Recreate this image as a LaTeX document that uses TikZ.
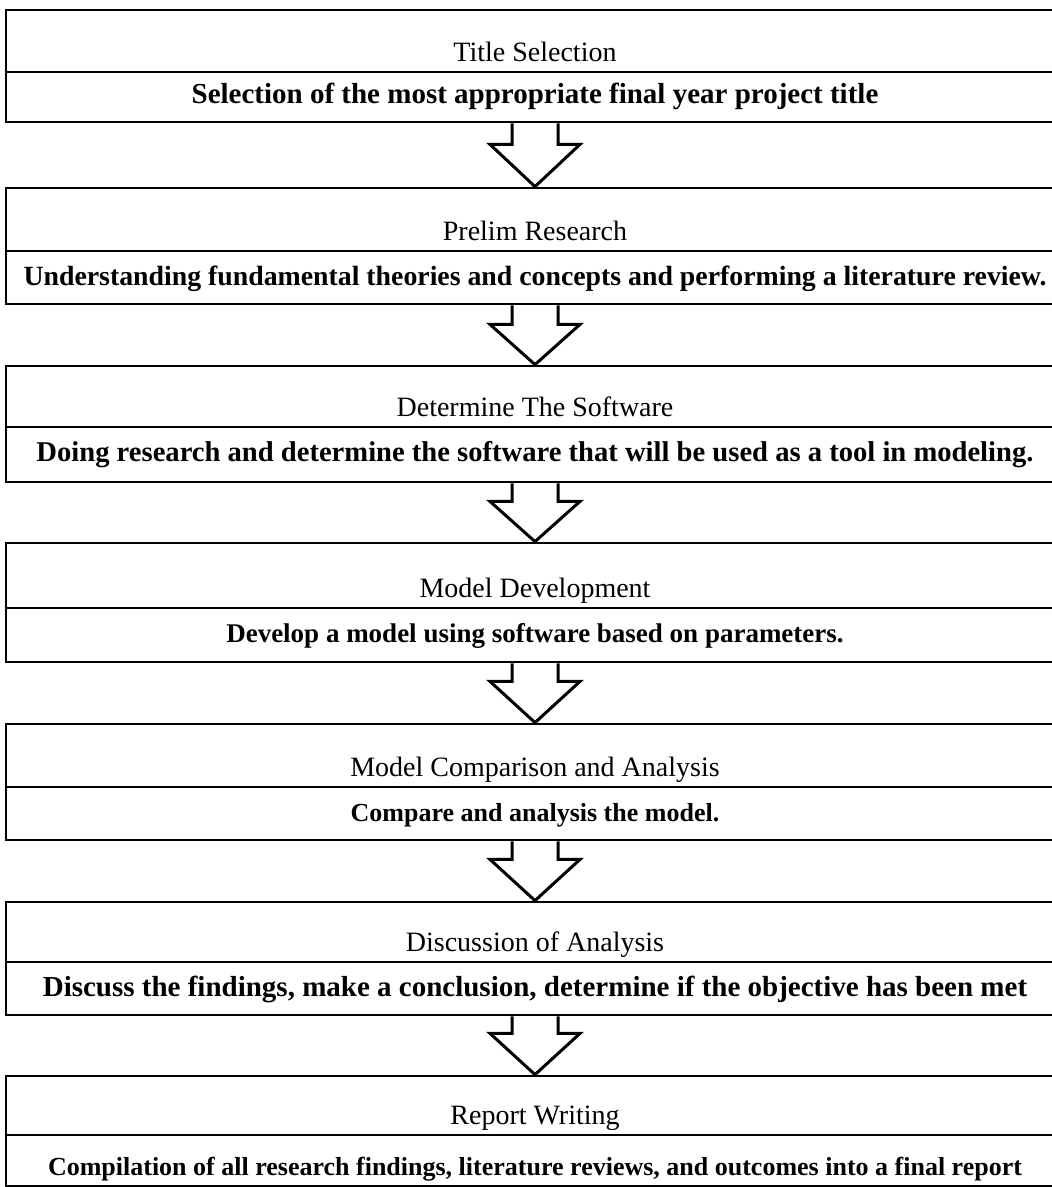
\documentclass[tikz,border=0pt]{standalone}
\usepackage{fontspec}
\setmainfont{Liberation Serif}
\usetikzlibrary{calc}

\tikzset{
  stagebox/.style={draw, line width=2.8pt, minimum width=1058pt, inner sep=0pt},
  midline/.style={line width=2pt},
  stagetitle/.style={anchor=base, inner sep=0pt, font=\fontsize{28}{33}\selectfont},
  stagetext/.style={anchor=base, inner sep=0pt, font=\fontsize{#1}{33}\selectfont\bfseries},
  stagetext/.default=28,
  flow/.style={line width=3pt, line join=miter},
}

\begin{document}
\begin{tikzpicture}[x=1pt,y=-1pt]
        \useasboundingbox (0,0) rectangle (1052,1187);
        \clip (0,0) rectangle (1052,1187);
        % stages
        \node[stagebox, minimum height=112pt] (s1) at (535,66) {};
        \coordinate (m1) at (535,72);
        \draw[midline] (s1.west |- m1) -- (s1.east |- m1);
        \node[stagetitle] (t1) at (535,61) {Title Selection};
        \node[stagetext=29] (d1) at (535,103) {Selection of the most appropriate final year project title};

        \node[stagebox, minimum height=116pt] (s2) at (535,246) {};
        \coordinate (m2) at (535,251);
        \draw[midline] (s2.west |- m2) -- (s2.east |- m2);
        \node[stagetitle] (t2) at (535,240) {Prelim Research};
        \node[stagetext=27.8] (d2) at (535,285) {Understanding fundamental theories and concepts and performing a literature review.};

        \node[stagebox, minimum height=116pt] (s3) at (535,424) {};
        \coordinate (m3) at (535,427);
        \draw[midline] (s3.west |- m3) -- (s3.east |- m3);
        \node[stagetitle] (t3) at (535,416) {Determine The Software};
        \node[stagetext=28.6] (d3) at (535,461) {Doing research and determine the software that will be used as a tool in modeling.};

        \node[stagebox, minimum height=119pt] (s4) at (535,602.5) {};
        \coordinate (m4) at (535,608);
        \draw[midline] (s4.west |- m4) -- (s4.east |- m4);
        \node[stagetitle] (t4) at (535,597) {Model Development};
        \node[stagetext=27] (d4) at (535,642) {Develop a model using software based on parameters.};

        \node[stagebox, minimum height=116pt] (s5) at (535,782) {};
        \coordinate (m5) at (535,787);
        \draw[midline] (s5.west |- m5) -- (s5.east |- m5);
        \node[stagetitle] (t5) at (535,776) {Model Comparison and Analysis};
        \node[stagetext=26] (d5) at (535,821) {Compare and analysis the model.};

        \node[stagebox, minimum height=113pt] (s6) at (535,958.5) {};
        \coordinate (m6) at (535,962);
        \draw[midline] (s6.west |- m6) -- (s6.east |- m6);
        \node[stagetitle] (t6) at (535,951) {Discussion of Analysis};
        \node[stagetext=29] (d6) at (535,996) {Discuss the findings, make a conclusion, determine if the objective has been met};

        \node[stagebox, minimum height=110pt] (s7) at (535,1131) {};
        \coordinate (m7) at (535,1135);
        \draw[midline] (s7.west |- m7) -- (s7.east |- m7);
        \node[stagetitle] (t7) at (535,1124) {Report Writing};
        \node[stagetext=26] (d7) at (535,1175) {Compilation of all research findings, literature reviews, and outcomes into a final report};
        % block arrows
        \draw[flow] ($(s1.south)+(-23,0)$) -- ++(0,21) -- ++(-22,0) -- (s2.north) -- ($(s1.south)+(45,21)$) -- ++(-22,0) -- ++(0,-21);
        \draw[flow] ($(s2.south)+(-23,0)$) -- ++(0,19) -- ++(-22,0) -- (s3.north) -- ($(s2.south)+(45,19)$) -- ++(-22,0) -- ++(0,-19);
        \draw[flow] ($(s3.south)+(-23,0)$) -- ++(0,18) -- ++(-22,0) -- (s4.north) -- ($(s3.south)+(45,18)$) -- ++(-22,0) -- ++(0,-18);
        \draw[flow] ($(s4.south)+(-23,0)$) -- ++(0,18) -- ++(-22,0) -- (s5.north) -- ($(s4.south)+(45,18)$) -- ++(-22,0) -- ++(0,-18);
        \draw[flow] ($(s5.south)+(-23,0)$) -- ++(0,18) -- ++(-22,0) -- (s6.north) -- ($(s5.south)+(45,18)$) -- ++(-22,0) -- ++(0,-18);
        \draw[flow] ($(s6.south)+(-23,0)$) -- ++(0,17) -- ++(-22,0) -- (s7.north) -- ($(s6.south)+(45,17)$) -- ++(-22,0) -- ++(0,-17);
    \end{tikzpicture}
\end{document}
